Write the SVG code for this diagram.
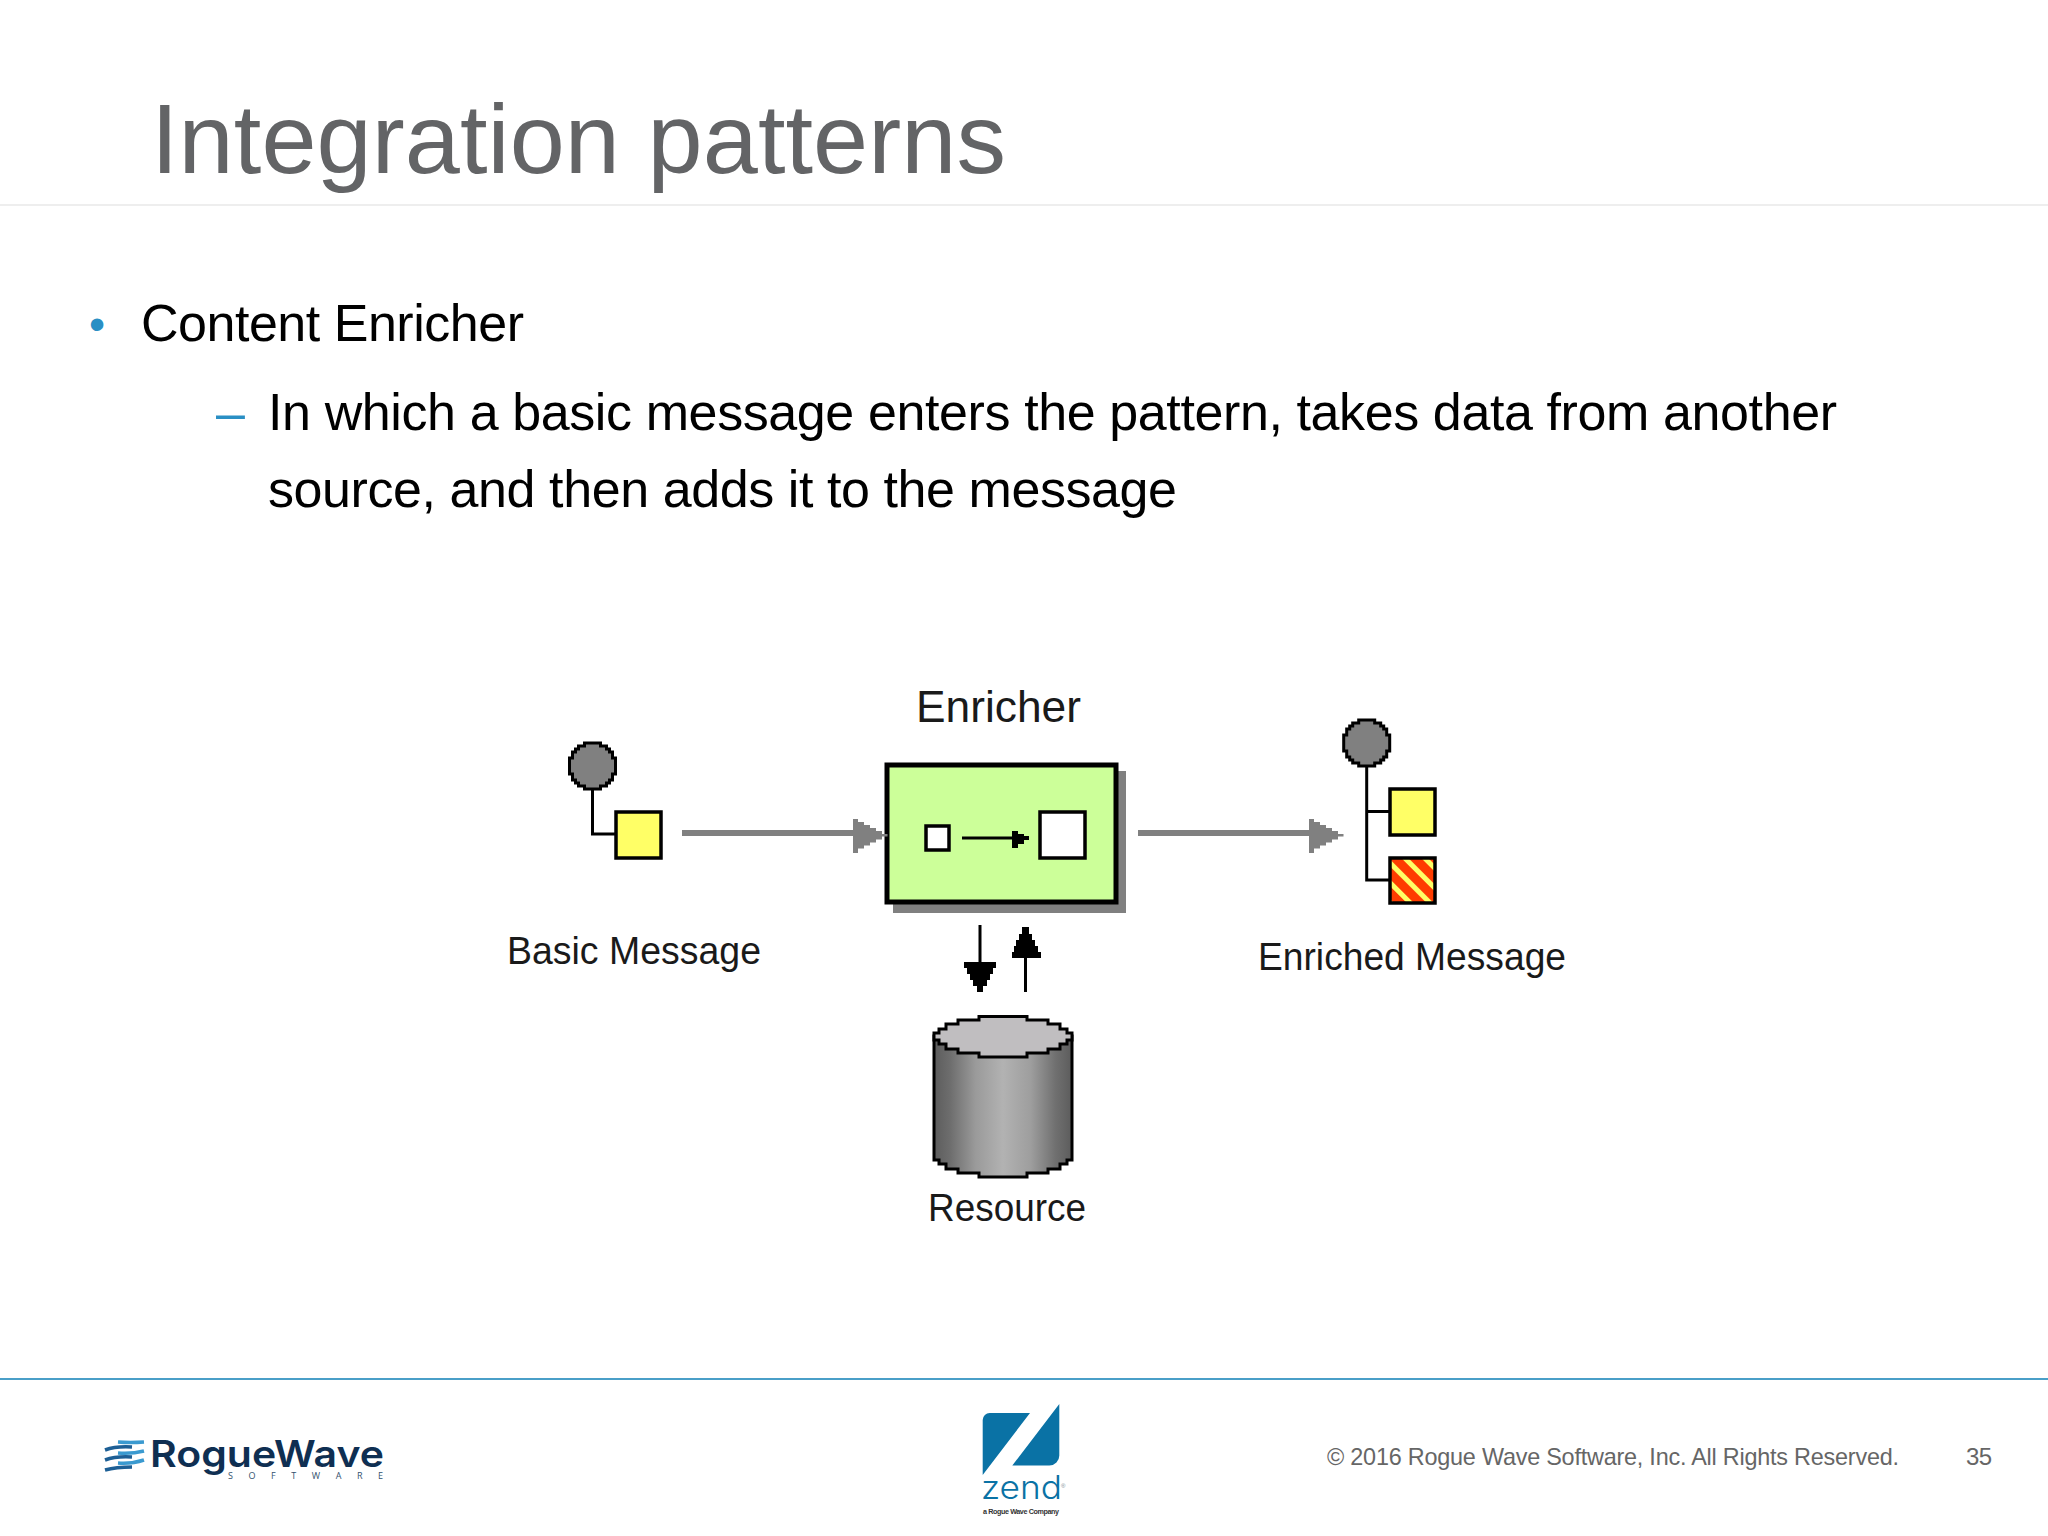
<svg xmlns="http://www.w3.org/2000/svg" width="2048" height="1536" viewBox="0 0 2048 1536">
<style>
.s{font-family:"Liberation Sans",Arial,sans-serif}
.b{font-size:52px;fill:#000}
.l{font-family:"Liberation Sans",Arial,sans-serif;fill:#1a1a1a;font-size:38px}
.o{stroke:#000;stroke-width:3.5}
.g{stroke:#808080;stroke-width:6;fill:none}
.w{stroke:#000;stroke-width:3;fill:none}
.ball{fill:#808080;stroke:#000;stroke-width:3}
</style>
<defs>
<linearGradient id="cyl" x1="0" x2="1" y1="0" y2="0">
<stop offset="0" stop-color="#5c5c5c"/><stop offset=".12" stop-color="#6e6e6e"/><stop offset=".3" stop-color="#9a9a9a"/><stop offset=".5" stop-color="#b2b2b2"/><stop offset=".7" stop-color="#9e9e9e"/><stop offset=".88" stop-color="#707070"/><stop offset="1" stop-color="#5c5c5c"/>
</linearGradient>
<pattern id="hatch" width="14" height="14" patternUnits="userSpaceOnUse" patternTransform="translate(1390 858) rotate(45)">
<rect width="14" height="14" fill="#ff3c00"/><rect y="1" width="14" height="5" fill="#ffff66"/>
</pattern>
<path id="ballshape" d="M-8-23H8V-20H14V-17H17V-14H20V-8H23V8H20V14H17V17H14V20H8V23H-8V20H-14V17H-17V14H-20V8H-23V-8H-20V-14H-17V-17H-14V-20H-8Z"/>
<path id="grayhead" d="M0-16.500H5V-13.500H11V-10.500H17V-7.500H23V-4.500H29V-1.500H34.500V1H29V4H23V7H17V10H11V13H5V17.500H0Z" fill="#808080"/>
</defs>
<rect width="2048" height="1536" fill="#fff"/>
<g id="slide">
<text class="s" x="151" y="173" font-size="99" fill="#636466" textLength="855">Integration patterns</text>
<rect x="0" y="204" width="2048" height="2" fill="#eeeeee"/>
<text class="s" x="89" y="340" font-size="46" fill="#2a8fc4">•</text>
<text class="s b" x="141" y="341" textLength="383">Content Enricher</text>
<text class="s" x="216" y="430" font-size="52" fill="#2a8fc4">–</text>
<text class="s b" x="268" y="430" textLength="1569">In which a basic message enters the pattern, takes data from another</text>
<text class="s b" x="268" y="507" textLength="909">source, and then adds it to the message</text>
</g>
<g id="basic-message">
<path class="w" d="M592.500 790V834H615"/>
<use href="#ballshape" class="ball" x="592.500" y="766"/>
<rect class="o" x="616" y="812" width="45" height="46" fill="#ffff66" stroke-width="3"/>
<text class="l" x="507" y="964" textLength="254" lengthAdjust="spacingAndGlyphs">Basic Message</text>
</g>
<g id="enricher">
<rect x="893" y="771" width="233" height="142" fill="#808080"/>
<rect x="887" y="765" width="229" height="137" fill="#ccff99" stroke="#000" stroke-width="5"/>
<rect class="o" x="926" y="826" width="23" height="24" fill="#fff" stroke-width="3"/>
<rect class="o" x="1040" y="812" width="45" height="46" fill="#fff" stroke-width="3"/>
<text class="l" x="916" y="722" style="font-size:45px" textLength="165" lengthAdjust="spacingAndGlyphs">Enricher</text>
</g>
<g id="enriched-message">
<path class="w" d="M1366.700 767V880H1390M1366.700 811.500H1390"/>
<use href="#ballshape" class="ball" x="1366.700" y="743"/>
<rect class="o" x="1390" y="789" width="45" height="46" fill="#ffff66" stroke-width="3"/>
<rect x="1390" y="858" width="45" height="45" fill="url(#hatch)" stroke="#000" stroke-width="3.500"/>
<text class="l" x="1258" y="970" textLength="308" lengthAdjust="spacingAndGlyphs">Enriched Message</text>
</g>
<g id="resource">
<path d="M934 1036V1160H939V1164H946V1169H958V1173H979V1177H1027V1173H1048V1169H1060V1164H1067V1160H1072V1036Z" fill="url(#cyl)" stroke="#000" stroke-width="3"/>
<path d="M979 1016.500H1027V1020H1048V1024H1060V1029H1067V1033H1072V1040H1067V1044H1060V1049H1048V1053H1027V1057H979V1053H958V1049H946V1044H939V1040H934V1033H939V1029H946V1024H958V1020H979Z" fill="#c0bec0" stroke="#000" stroke-width="3"/>
<text class="l" x="928" y="1221" textLength="158" lengthAdjust="spacingAndGlyphs">Resource</text>
</g>
<g id="connectors">
<path class="g" d="M682 833H856"/>
<use href="#grayhead" x="853" y="835.500"/>
<path class="g" d="M1138 833H1312"/>
<use href="#grayhead" x="1309" y="835.500"/>
<path class="w" d="M962 838H1016"/>
<path d="M1012 831H1018V834H1024V836H1029V840H1024V844H1018V848H1012Z" fill="#000"/>
<path class="w" d="M980 925V965"/>
<path d="M964 962H996V968H993V974H990V980H987V986H983V992H977V986H973V980H970V974H967V968H964Z" fill="#000"/>
<path class="w" d="M1025.500 992V955"/>
<path d="M1012 958H1041V952H1038V946H1035V940H1032V934H1029V927H1022V934H1019V940H1016V946H1014V952H1012Z" fill="#000"/>
</g>
<g id="footer">
<rect x="0" y="1378" width="2048" height="2" fill="#4a9fc8"/>
<text class="s" x="1327" y="1465" font-size="23.400" fill="#666" textLength="572">© 2016 Rogue Wave Software, Inc. All Rights Reserved.</text>
<text class="s" x="1966" y="1465" font-size="24" fill="#666" textLength="26">35</text>
</g>
<g id="roguewave-logo">
<g fill="none" stroke-width="3.500">
<path stroke="#3a9ad0" d="M118 1442Q130 1443 144 1442"/>
<path stroke="#1d5f95" d="M105 1450Q116 1446 132 1447"/>
<path stroke="#3a9ad0" d="M118 1453Q132 1454 144 1451"/>
<path stroke="#1d5f95" d="M105 1460Q116 1456 132 1457"/>
<path stroke="#3a9ad0" d="M118 1463Q132 1464 144 1460"/>
<path stroke="#1d5f95" d="M105 1470Q116 1467 132 1467"/>
</g>
<text x="150" y="1467" font-family="Inter,'Open Sans',sans-serif" font-weight="600" font-size="37" fill="#0f2f52" textLength="234" lengthAdjust="spacingAndGlyphs">RogueWave</text>
<text x="228" y="1479" font-family="'Open Sans',sans-serif" font-size="9" fill="#33516e" textLength="155">SOFTWARE</text>
</g>
<g id="zend-logo">
<path d="M990 1413H1030L982.700 1475V1420A7 7 0 0 1 990 1413Z" fill="#0a72a5"/>
<path d="M1059.300 1404V1455A10 10 0 0 1 1049 1465.500H1012.300Z" fill="#0a72a5"/>
<text x="981" y="1499" font-family="Inter,'Open Sans',sans-serif" font-weight="300" font-size="32" fill="#0a72a5" textLength="81" lengthAdjust="spacingAndGlyphs">zend</text>
<text x="1061" y="1488" font-family="'Liberation Sans',sans-serif" font-size="6" fill="#7a8a95">®</text>
<text x="983" y="1514" font-family="'Liberation Sans',sans-serif" font-weight="700" font-size="7.200" fill="#333" textLength="76">a Rogue Wave Company</text>
</g>
</svg>
